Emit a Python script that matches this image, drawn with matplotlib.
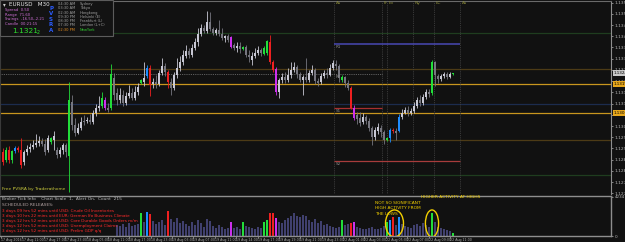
import matplotlib
matplotlib.use("Agg")
import matplotlib.pyplot as plt
import matplotlib.transforms as mtransforms
from matplotlib.patches import Rectangle, Ellipse
from matplotlib import font_manager
import numpy as np

# ---------------- data ----------------
opens = [1.12884,1.12848,1.12893,1.12848,1.12888,1.12902,1.12893,1.12839,1.12884,1.12897,
 1.12906,1.12915,1.12924,1.12933,1.12920,1.12893,1.12929,1.12938,1.12893,1.12875,
 1.12893,1.12915,1.12866,1.13107,1.13005,1.12969,1.12991,1.13022,1.13022,1.13027,
 1.13018,1.13058,1.13080,1.13089,1.13116,1.13080,1.13080,1.13214,1.13147,1.13116,
 1.13138,1.13103,1.13134,1.13147,1.13125,1.13151,1.13192,1.13196,1.13223,1.13258,
 1.13187,1.13196,1.13187,1.13236,1.13267,1.13241,1.13196,1.13169,1.13227,1.13258,
 1.13285,1.13312,1.13334,1.13316,1.13348,1.13375,1.13410,1.13437,1.13424,1.13464,
 1.13433,1.13415,1.13428,1.13410,1.13392,1.13401,1.13397,1.13361,1.13348,1.13357,
 1.13343,1.13352,1.13316,1.13294,1.13312,1.13325,1.13339,1.13321,1.13325,1.13375,
 1.13285,1.13254,1.13151,1.13205,1.13218,1.13205,1.13227,1.13250,1.13263,1.13232,
 1.13205,1.13218,1.13205,1.13236,1.13250,1.13200,1.13196,1.13223,1.13236,1.13227,
 1.13258,1.13276,1.13267,1.13205,1.13218,1.13192,1.13169,1.13080,1.13049,1.13036,
 1.13018,1.13040,1.13022,1.12991,1.12951,1.12978,1.12991,1.12973,1.12938,1.12947,
 1.12982,1.12978,1.12978,1.13040,1.13058,1.13071,1.13058,1.13067,1.13089,1.13116,
 1.13103,1.13129,1.13151,1.13147,1.13285,1.13223,1.13209,1.13223,1.13232,1.13218,
 1.13232]
highs = [1.12902,1.12906,1.12911,1.12893,1.12911,1.12911,1.12947,1.12893,1.12915,1.12924,
 1.12938,1.12964,1.12956,1.12947,1.12942,1.12960,1.12951,1.12978,1.12906,1.12906,
 1.12924,1.12924,1.13196,1.13138,1.13036,1.13013,1.13040,1.13049,1.13040,1.13054,
 1.13071,1.13098,1.13134,1.13151,1.13129,1.13103,1.13276,1.13236,1.13169,1.13169,
 1.13160,1.13151,1.13183,1.13169,1.13178,1.13192,1.13209,1.13285,1.13272,1.13272,
 1.13214,1.13227,1.13250,1.13303,1.13281,1.13250,1.13214,1.13241,1.13303,1.13312,
 1.13339,1.13361,1.13348,1.13366,1.13392,1.13437,1.13455,1.13450,1.13513,1.13508,
 1.13442,1.13437,1.13473,1.13437,1.13406,1.13410,1.13401,1.13370,1.13375,1.13375,
 1.13357,1.13361,1.13339,1.13330,1.13348,1.13357,1.13348,1.13357,1.13383,1.13406,
 1.13294,1.13263,1.13214,1.13236,1.13241,1.13258,1.13285,1.13285,1.13272,1.13241,
 1.13227,1.13303,1.13250,1.13272,1.13258,1.13214,1.13236,1.13250,1.13258,1.13276,
 1.13294,1.13294,1.13276,1.13227,1.13223,1.13205,1.13178,1.13094,1.13062,1.13062,
 1.13058,1.13049,1.13036,1.13000,1.12996,1.13013,1.13005,1.12982,1.12951,1.12991,
 1.12991,1.12991,1.13054,1.13076,1.13085,1.13089,1.13080,1.13107,1.13129,1.13138,
 1.13143,1.13165,1.13165,1.13294,1.13290,1.13232,1.13232,1.13241,1.13241,1.13241,
 1.13236]
lows = [1.12826,1.12839,1.12835,1.12835,1.12880,1.12884,1.12813,1.12826,1.12871,1.12884,
 1.12897,1.12906,1.12911,1.12911,1.12871,1.12884,1.12920,1.12893,1.12857,1.12862,
 1.12875,1.12862,1.12705,1.12982,1.12956,1.12964,1.12982,1.13005,1.13013,1.13009,
 1.13009,1.13045,1.13067,1.13080,1.13071,1.13062,1.13071,1.13116,1.13094,1.13103,
 1.13089,1.13094,1.13125,1.13116,1.13116,1.13138,1.13187,1.13178,1.13214,1.13134,
 1.13169,1.13169,1.13178,1.13227,1.13223,1.13169,1.13138,1.13160,1.13214,1.13245,
 1.13272,1.13303,1.13303,1.13308,1.13339,1.13357,1.13401,1.13415,1.13415,1.13424,
 1.13406,1.13406,1.13401,1.13383,1.13375,1.13375,1.13348,1.13339,1.13330,1.13325,
 1.13339,1.13308,1.13285,1.13272,1.13303,1.13316,1.13312,1.13316,1.13316,1.13276,
 1.13241,1.13138,1.13125,1.13192,1.13192,1.13196,1.13214,1.13241,1.13214,1.13196,
 1.13138,1.13196,1.13196,1.13227,1.13187,1.13178,1.13187,1.13214,1.13214,1.13223,
 1.13250,1.13250,1.13196,1.13196,1.13174,1.13160,1.13076,1.13027,1.13009,1.13000,
 1.13009,1.13009,1.12978,1.12915,1.12938,1.12964,1.12951,1.12920,1.12933,1.12929,
 1.12969,1.12938,1.12973,1.13031,1.13054,1.13045,1.13049,1.13058,1.13080,1.13089,
 1.13094,1.13120,1.13129,1.13138,1.13178,1.13192,1.13200,1.13214,1.13209,1.13214,
 1.13227]
closes = [1.12839,1.12893,1.12848,1.12888,1.12902,1.12893,1.12826,1.12884,1.12897,1.12906,
 1.12915,1.12924,1.12933,1.12920,1.12884,1.12947,1.12947,1.12956,1.12871,1.12893,
 1.12915,1.12884,1.13116,1.13005,1.12969,1.12991,1.13018,1.13018,1.13027,1.13018,
 1.13058,1.13080,1.13089,1.13125,1.13080,1.13071,1.13232,1.13138,1.13116,1.13138,
 1.13103,1.13134,1.13147,1.13125,1.13151,1.13174,1.13205,1.13214,1.13258,1.13183,
 1.13196,1.13187,1.13236,1.13267,1.13241,1.13196,1.13169,1.13227,1.13258,1.13285,
 1.13316,1.13334,1.13316,1.13348,1.13375,1.13410,1.13437,1.13424,1.13464,1.13433,
 1.13415,1.13428,1.13410,1.13392,1.13401,1.13383,1.13352,1.13348,1.13357,1.13343,
 1.13352,1.13316,1.13308,1.13312,1.13325,1.13339,1.13325,1.13348,1.13379,1.13285,
 1.13250,1.13151,1.13205,1.13218,1.13205,1.13227,1.13250,1.13263,1.13232,1.13205,
 1.13218,1.13205,1.13236,1.13250,1.13200,1.13192,1.13223,1.13236,1.13227,1.13258,
 1.13281,1.13267,1.13214,1.13218,1.13192,1.13169,1.13080,1.13036,1.13031,1.13013,
 1.13040,1.13022,1.12991,1.12951,1.12982,1.12996,1.12973,1.12938,1.12947,1.12982,
 1.12978,1.12969,1.13040,1.13058,1.13071,1.13058,1.13067,1.13089,1.13116,1.13103,
 1.13129,1.13151,1.13143,1.13285,1.13227,1.13209,1.13223,1.13232,1.13218,1.13232,
 1.13236]

# PVSRA volume classes (bar indices)
climax_bars = [0, 1, 2, 3, 5, 6, 16, 22, 33, 36, 46, 49, 55, 80, 87, 88, 89, 90,
               113, 116, 128, 130, 143, 150]
above_avg_bars = [4, 34, 48, 76, 91, 117, 129, 132]

vol_start = 38
volumes = [1200, 1100, 1300, 1000, 1400, 1100, 1200, 1300, 2450, 1500,
           2550, 2350, 1600, 1300, 1500, 1700, 1200, 2650, 1800, 1500,
           1900, 1400, 1600, 1300, 1100, 1500, 1200, 1700, 1400, 1000,
           1800, 1600, 1100, 900, 1200, 1000, 800, 900, 1500, 900,
           1000, 800, 1500, 1100, 1000, 900, 800, 1000, 900, 1500,
           1700, 2450, 2450, 1900, 1500, 1400, 1700, 1900, 2200, 2500,
           2200, 2000, 2300, 2100, 1700, 1500, 1800, 1400, 1600, 1200,
           1300, 1100, 1000, 900, 1000, 1700, 1200, 1300, 1400, 1500,
           1000, 900, 800, 700, 900, 1000, 800, 700, 900, 1100,
           1500, 1700, 2000, 1200, 2000, 1300, 1100, 1000, 900, 1200,
           1300, 1100, 1400, 1200, 1000, 2450, 1500, 1000, 900, 700,
           600, 500, 300]
vol_max_label = 4234

full_levels = [1.13415, 1.13254, 1.13187, 1.13098, 1.13058, 1.12938, 1.12781]
full_level_colors = ["#1f3d1f", "#4d3b16", "#c8961e", "#1c2c4e", "#c8961e", "#4d3b16", "#1f3d1f"]
day_high_level = 1.13366
day_low_level = 1.12844
pivot_level = 1.13232
open_level = 1.13080
price_boxes = [(1.13187, "1.1319", "#e8a81c"), (1.13058, "1.1306", "#e8a81c"),
               (1.13236, "1.1324", "#c8c8c8")]

sessions = ["As", "Fr", "Lo", "Ny", "LC", "As"]
session_bars = [110.3, 126.3, 128.0, 136.7, 143.7, 152.3]

time_labels = ["17 Aug 2016", "17 Aug 11:00", "17 Aug 17:00", "17 Aug 23:00", "18 Aug 05:00",
               "18 Aug 11:00", "18 Aug 17:00", "18 Aug 23:00", "19 Aug 03:00", "19 Aug 07:00",
               "19 Aug 11:00", "19 Aug 14:00", "19 Aug 17:00", "19 Aug 19:00", "19 Aug 21:00",
               "19 Aug 23:00", "22 Aug 01:00", "22 Aug 03:00", "22 Aug 05:00", "22 Aug 07:00",
               "22 Aug 09:00", "22 Aug 11:00"]

session_rows = [("04:30 AM", "Sydney"), ("03:30 AM", "Tokyo"), ("02:30 AM", "Hongkong"),
                ("09:30 PM", "Helsinki (E)"), ("08:30 PM", "Frankfurt (L)"),
                ("07:30 PM", "London (L+C)"), ("02:30 PM", "NewYork")]
releases = ["3 days 09 hrs 52 mins until USD: Crude Oil Inventories",
            "3 days 10 hrs 22 mins until EUR: German Ifo Business Climate",
            "3 days 12 hrs 52 mins until USD: Core Durable Goods Orders m/m",
            "3 days 12 hrs 52 mins until USD: Unemployment Claims",
            "3 days 12 hrs 52 mins until USD: Prelim GDP q/q"]

# ---------------- styling ----------------
BG = "#111111"
W, H = 625, 242
def fx(px): return px / W
def fy(py): return 1 - py / H

_names = {f.name for f in font_manager.fontManager.ttflist}
NARROW = "Liberation Sans Narrow" if "Liberation Sans Narrow" in _names else "DejaVu Sans"
NF = [NARROW, "DejaVu Sans"]
SHRINK = 1.0 if NARROW != "DejaVu Sans" else 0.82

plt.rcParams["font.family"] = ["DejaVu Sans"]
fig = plt.figure(figsize=(6.25, 2.42), dpi=100, facecolor=BG)
ax = fig.add_axes([0, fy(194), fx(611), fy(1) - fy(194)], facecolor=BG)
axv = fig.add_axes([0, fy(236), fx(611), fy(196) - fy(236)], facecolor=BG)

n = len(closes)
idx = np.arange(n)
XL = (-1, 202.67)

def bar_color(i):
    bull = closes[i] >= opens[i]
    if i in climax_bars:
        return "#22dd3a" if bull else "#ee2020"
    if i in above_avg_bars:
        return "#1e8cff" if bull else "#cc30ee"
    return None

# candles
for i in idx:
    c = bar_color(i)
    bull = closes[i] >= opens[i]
    if c is None:
        c = "#c8c8d4" if bull else "#76767f"
    ax.vlines(i, lows[i], highs[i], color=c, lw=0.6, zorder=3)
    h = closes[i] - opens[i]
    if abs(h) < 0.00003:
        h = 0.00003 if h >= 0 else -0.00003
    ax.bar(i, h, bottom=opens[i], width=0.62, color=c, linewidth=0, zorder=4)

# levels
for lv, col in zip(full_levels, full_level_colors):
    ax.axhline(lv, color=col, lw=0.9, zorder=1)
ax.hlines(day_high_level, session_bars[0], session_bars[-1], color="#4848b4", lw=1.1, zorder=2)
ax.hlines(day_low_level, session_bars[0], session_bars[-1], color="#a83c3c", lw=0.9, zorder=2)
ax.hlines(open_level, session_bars[0], session_bars[1], color="#a83030", lw=0.9, zorder=2)
ax.hlines(pivot_level, XL[0], session_bars[1], color="#7a7a7a", lw=0.6,
          linestyles=(0, (1, 1.2)), zorder=2)
for lv, lab in [(day_high_level, "R1"), (pivot_level, "PP"), (open_level, "S1"), (day_low_level, "S2")]:
    ax.text(session_bars[0] + 0.6, lv - 0.00004, lab, fontsize=3, color="#8a8a8a",
            va="top", ha="left", zorder=5, family=NF)

# sessions
for sb, nm in zip(session_bars, sessions):
    ax.axvline(sb, color="#474747", lw=0.6, linestyle=(0, (1, 1.2)), zorder=1)
    ax.text(sb + 0.6, 1.13549, nm, fontsize=3.2, color="#8c8c3a", va="center", ha="left",
            family=NF)

ax.set_xlim(*XL)
ax.set_ylim(1.12697, 1.13557)
ax.set_xticks([])
ticks = np.round(np.arange(1.1270, 1.13551, 0.0005), 4)
ax.yaxis.tick_right()
ax.set_yticks(ticks)
ax.set_yticklabels([f"{t:.4f}" for t in ticks], family=NF)
ax.tick_params(axis="y", labelsize=3.8 * SHRINK, colors="#b4b4b4", length=1.5, width=0.5, pad=1)
for s, col in [("top", "#6a6a6a"), ("right", "#8e8e8e"), ("left", "#3a3a3a")]:
    ax.spines[s].set_color(col)
    ax.spines[s].set_linewidth(0.8)
ax.spines["bottom"].set_visible(False)

blend = mtransforms.blended_transform_factory(ax.transAxes, ax.transData)
for lv, lab, col in price_boxes:
    ax.text(1.004, lv, lab, transform=blend, fontsize=3.6 * SHRINK, color="#000000", va="center",
            ha="left", clip_on=False, zorder=10, family=NF,
            bbox=dict(boxstyle="square,pad=0.15", fc=col, ec="none"))

# volume panel
vidx = np.arange(vol_start, vol_start + len(volumes))
vcols = [bar_color(i) or "#40406e" for i in vidx]
axv.bar(vidx, volumes, width=0.55, color=vcols, linewidth=0, zorder=2)
axv.set_xlim(*XL)
axv.set_ylim(0, 4300)
axv.yaxis.tick_right()
axv.set_yticks([0, vol_max_label])
axv.set_yticklabels(["0", str(vol_max_label)], family=NF)
axv.tick_params(axis="y", labelsize=3.6 * SHRINK, colors="#b4b4b4", length=1.5, width=0.5, pad=1)
tick_pos = np.linspace(-0.67, 149.0, len(time_labels))
axv.set_xticks(tick_pos)
axv.set_xticklabels(time_labels, ha="left", family=NF)
axv.tick_params(axis="x", labelsize=2.85 * SHRINK, colors="#b0b0b0", length=1.2, width=0.5, pad=0.6)
for s in ["top", "right", "bottom"]:
    axv.spines[s].set_color("#8e8e8e")
    axv.spines[s].set_linewidth(1.0)
axv.spines["left"].set_color("#3a3a3a")

yel = "#f2cf00"
axv.add_patch(Ellipse((130.5, 1350), 6.0, 2900, fc="none", ec=yel, lw=1.0, zorder=5))
axv.add_patch(Ellipse((143.0, 1350), 4.4, 2900, fc="none", ec=yel, lw=1.0, zorder=5))
fig.text(fx(375), fy(201), "NOT SO SIGNIFICANT\nHIGH ACTIVITY FROM\nTHE LOWS", fontsize=3.8 * SHRINK,
         color=yel, va="top", ha="left", linespacing=1.45, zorder=12, family=NF)
fig.text(fx(421), fy(197.5), "HIGHER ACTIVITY AT HIGHS", fontsize=3.8 * SHRINK, color=yel,
         va="center", ha="left", zorder=12, family=NF)

# subpanel texts
fig.text(fx(2), fy(198.5), "Broker Tick Info    Chart Scale  1,  Alert On,  Count  215",
         fontsize=3.8 * SHRINK, color="#b8b8b8", va="center", ha="left", family=NF)
fig.text(fx(2), fy(205.5), "SCHEDULED RELEASES:", fontsize=3.8 * SHRINK, color="#b0a0a0",
         va="center", ha="left", family=NF)
for k, r in enumerate(releases):
    fig.text(fx(2), fy(211 + 5 * k), r, fontsize=3.6 * SHRINK, color="#ff2a2a", va="center",
             ha="left", family=NF)
fig.text(fx(2), fy(189), "Free PVSRA by Traderathome", fontsize=3.8 * SHRINK, color="#c8c83c",
         va="center", ha="left", family=NF)

# header box
fig.add_artist(Rectangle((0, fy(36)), fx(113), 36 / H, transform=fig.transFigure,
                         fc="#131313", ec="#5c5c5c", lw=0.8, zorder=10))
fig.text(fx(3), fy(4.5), "\u25be", fontsize=4, color="#d0d0d0", va="center", ha="left", zorder=11)
fig.text(fx(9), fy(4.5), "EURUSD   M30", fontsize=4.1, color="#e8e8e8", va="center",
         ha="left", zorder=11, family=NF)
for k, t in enumerate(["Spread  0.50", "Range  71.60", "Swings  -16.50,-2.21", "Candle  00:21:15"]):
    fig.text(fx(5), fy(10.5 + 4.4 * k), t, fontsize=3.3 * SHRINK, color="#d070d8", va="center",
             ha="left", zorder=11, family=NF)
fig.text(fx(12), fy(31), "1.1321", fontsize=5.4, color="#2edc2e", va="center", ha="left",
         zorder=11, family=NF)
fig.text(fx(37), fy(32), "2", fontsize=3.4, color="#2edc2e", va="center", ha="left",
         zorder=11, family=NF)
for k, ch in enumerate("PVSRA"):
    fig.text(fx(51), fy(8.5 + 5.4 * k), ch, fontsize=4.0, color="#2a5cff", fontweight="bold",
             va="center", ha="center", zorder=11)
for k, (tm, nm) in enumerate(session_rows):
    last = k == len(session_rows) - 1
    fig.text(fx(58), fy(4 + 4.3 * k), tm, fontsize=3.2 * SHRINK,
             color="#e08a20" if last else "#a0a0a0", va="center", ha="left", zorder=11, family=NF)
    fig.text(fx(80), fy(4 + 4.3 * k), nm, fontsize=3.2 * SHRINK,
             color="#30d030" if last else "#a0a0a0", va="center", ha="left", zorder=11, family=NF)

fig.savefig("out.png", dpi=100, facecolor=BG)
